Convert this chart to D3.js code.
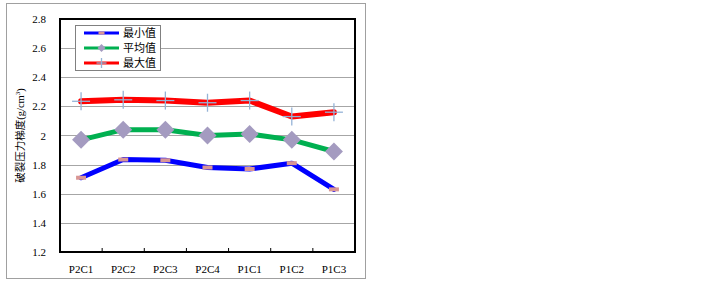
<!DOCTYPE html>
<html>
<head>
<meta charset="utf-8">
<script src="https://cdn.jsdelivr.net/npm/d3@7"></script>
<style>
  body { margin: 0; background: #fff; }
  text { font-family: "Liberation Serif", "Times New Roman", serif; }
  .cjk { font-family: "Noto Sans CJK SC", "Liberation Serif", serif; }
</style>
</head>
<body>
<div id="chart"></div>
<script>
// data
var categories = ["P2C1", "P2C2", "P2C3", "P2C4", "P1C1", "P1C2", "P1C3"];
var minValues = [1.71, 1.835, 1.83, 1.78, 1.77, 1.81, 1.63];
var avgValues = [1.97, 2.04, 2.04, 2.00, 2.01, 1.97, 1.89];
var maxValues = [2.235, 2.245, 2.24, 2.225, 2.24, 2.13, 2.16];
var yTicks = [1.2, 1.4, 1.6, 1.8, 2, 2.2, 2.4, 2.6, 2.8];
var seriesNames = ["最小值", "平均值", "最大值"];

var W = 722, H = 282;
var plot = {left: 60, top: 19, right: 355, bottom: 252};
var serif = "'Liberation Serif', 'Times New Roman', serif";

var svg = d3.select("#chart").append("svg")
	.attr("width", W)
	.attr("height", H);

// outer chart frame
svg.append("rect")
	.attr("x", 6.5).attr("y", 3.5)
	.attr("width", 359).attr("height", 275)
	.attr("fill", "#fff")
	.attr("stroke", "#a0a0a0");

var x = d3.scaleBand()
	.domain(categories)
	.range([plot.left, plot.right]);

var y = d3.scaleLinear()
	.domain([1.2, 2.8])
	.range([plot.bottom, plot.top]);

// gridlines
svg.append("g")
	.selectAll("line")
	.data(yTicks.slice(1, -1))
	.enter().append("line")
	.attr("x1", plot.left).attr("x2", plot.right)
	.attr("y1", function(d) { return Math.round(y(d)) + 0.5; })
	.attr("y2", function(d) { return Math.round(y(d)) + 0.5; })
	.attr("stroke", "#a6a6a6")
	.attr("stroke-width", 1);

// y axis labels
var yAxis = d3.axisLeft(y)
	.tickValues(yTicks)
	.tickSize(0)
	.tickPadding(14)
	.tickFormat(function(d) { return d === 2 ? "2" : d3.format(".1f")(d); });

var gy = svg.append("g")
	.attr("transform", "translate(" + plot.left + ",0)")
	.call(yAxis)
	.attr("font-family", serif)
	.attr("font-size", 11);
gy.select(".domain").remove();
gy.selectAll("text").attr("fill", "#000");

// x axis, ticks pointing inward at category boundaries
var xAxis = d3.axisBottom(x).tickSize(0).tickPadding(13);
var gx = svg.append("g")
	.attr("transform", "translate(0," + plot.bottom + ")")
	.call(xAxis)
	.attr("font-family", serif)
	.attr("font-size", 11);
gx.select(".domain").remove();
gx.selectAll("text").attr("fill", "#000");

svg.append("g")
	.selectAll("line")
	.data(categories.slice(1))
	.enter().append("line")
	.attr("x1", function(d) { return x(d); })
	.attr("x2", function(d) { return x(d); })
	.attr("y1", plot.bottom)
	.attr("y2", plot.bottom - 4)
	.attr("stroke", "#000");

// plot area border
svg.append("rect")
	.attr("x", plot.left).attr("y", plot.top)
	.attr("width", plot.right - plot.left)
	.attr("height", plot.bottom - plot.top)
	.attr("fill", "none")
	.attr("stroke", "#000")
	.attr("stroke-width", 2);

// y title
svg.append("text")
	.attr("class", "cjk")
	.attr("transform", "translate(24," + ((plot.top + plot.bottom) / 2) + ") rotate(-90)")
	.attr("text-anchor", "middle")
	.style("font-size", "10.5px")
	.html("破裂压力梯度<tspan font-family=\"" + serif + "\">(g/cm</tspan><tspan font-family=\"" + serif + "\" font-size='7px' dy='-4'>3</tspan><tspan font-family=\"" + serif + "\" dy='4'>)</tspan>");

var line = d3.line()
	.x(function(d, i) { return x(categories[i]) + x.bandwidth() / 2; })
	.y(function(d) { return y(d); });

var series = [
	{name: seriesNames[0], values: minValues, color: "#0000ff", width: 5},
	{name: seriesNames[1], values: avgValues, color: "#00b050", width: 5},
	{name: seriesNames[2], values: maxValues, color: "#ff0000", width: 6}
];

series.forEach(function(s) {
	svg.append("path")
		.attr("d", line(s.values))
		.attr("fill", "none")
		.attr("stroke", s.color)
		.attr("stroke-width", s.width)
		.attr("stroke-linejoin", "round")
		.attr("stroke-linecap", "round");
});

function drawMarker(g, kind, cx, cy, big) {
	if (kind === 0) {
		var w = big ? 10 : 6, h = big ? 4 : 3;
		g.append("rect")
			.attr("x", cx - w / 2).attr("y", cy - h / 2)
			.attr("width", w).attr("height", h)
			.attr("fill", "#d99694");
	} else if (kind === 1) {
		var r = big ? 9 : 4;
		g.append("path")
			.attr("d", "M" + cx + "," + (cy - r) + "L" + (cx + r) + "," + cy + "L" + cx + "," + (cy + r) + "L" + (cx - r) + "," + cy + "Z")
			.attr("fill", "#a49bc0");
	} else {
		var a = big ? 9 : 5;
		g.append("line")
			.attr("x1", cx - a).attr("x2", cx + a)
			.attr("y1", cy).attr("y2", cy)
			.attr("stroke", "#95b3d7").attr("stroke-width", 1.3);
		g.append("line")
			.attr("x1", cx).attr("x2", cx)
			.attr("y1", cy - a).attr("y2", cy + a)
			.attr("stroke", "#95b3d7").attr("stroke-width", 1.3);
	}
}

var markers = svg.append("g");
series.forEach(function(s, k) {
	s.values.forEach(function(v, i) {
		drawMarker(markers, k, x(categories[i]) + x.bandwidth() / 2, y(v), true);
	});
});

// legend
var lg = svg.append("g");
lg.append("rect")
	.attr("x", 75.5).attr("y", 25.5)
	.attr("width", 85).attr("height", 45)
	.attr("fill", "#fff")
	.attr("stroke", "#808080");

series.forEach(function(s, k) {
	var ly = 33 + k * 15;
	lg.append("line")
		.attr("x1", 84).attr("x2", 119)
		.attr("y1", ly).attr("y2", ly)
		.attr("stroke", s.color)
		.attr("stroke-width", 3);
	drawMarker(lg, k, 101.5, ly, false);
	lg.append("text")
		.attr("class", "cjk")
		.attr("x", 123).attr("y", ly + 4)
		.style("font-size", "11px")
		.text(s.name);
});
</script>
</body>
</html>
